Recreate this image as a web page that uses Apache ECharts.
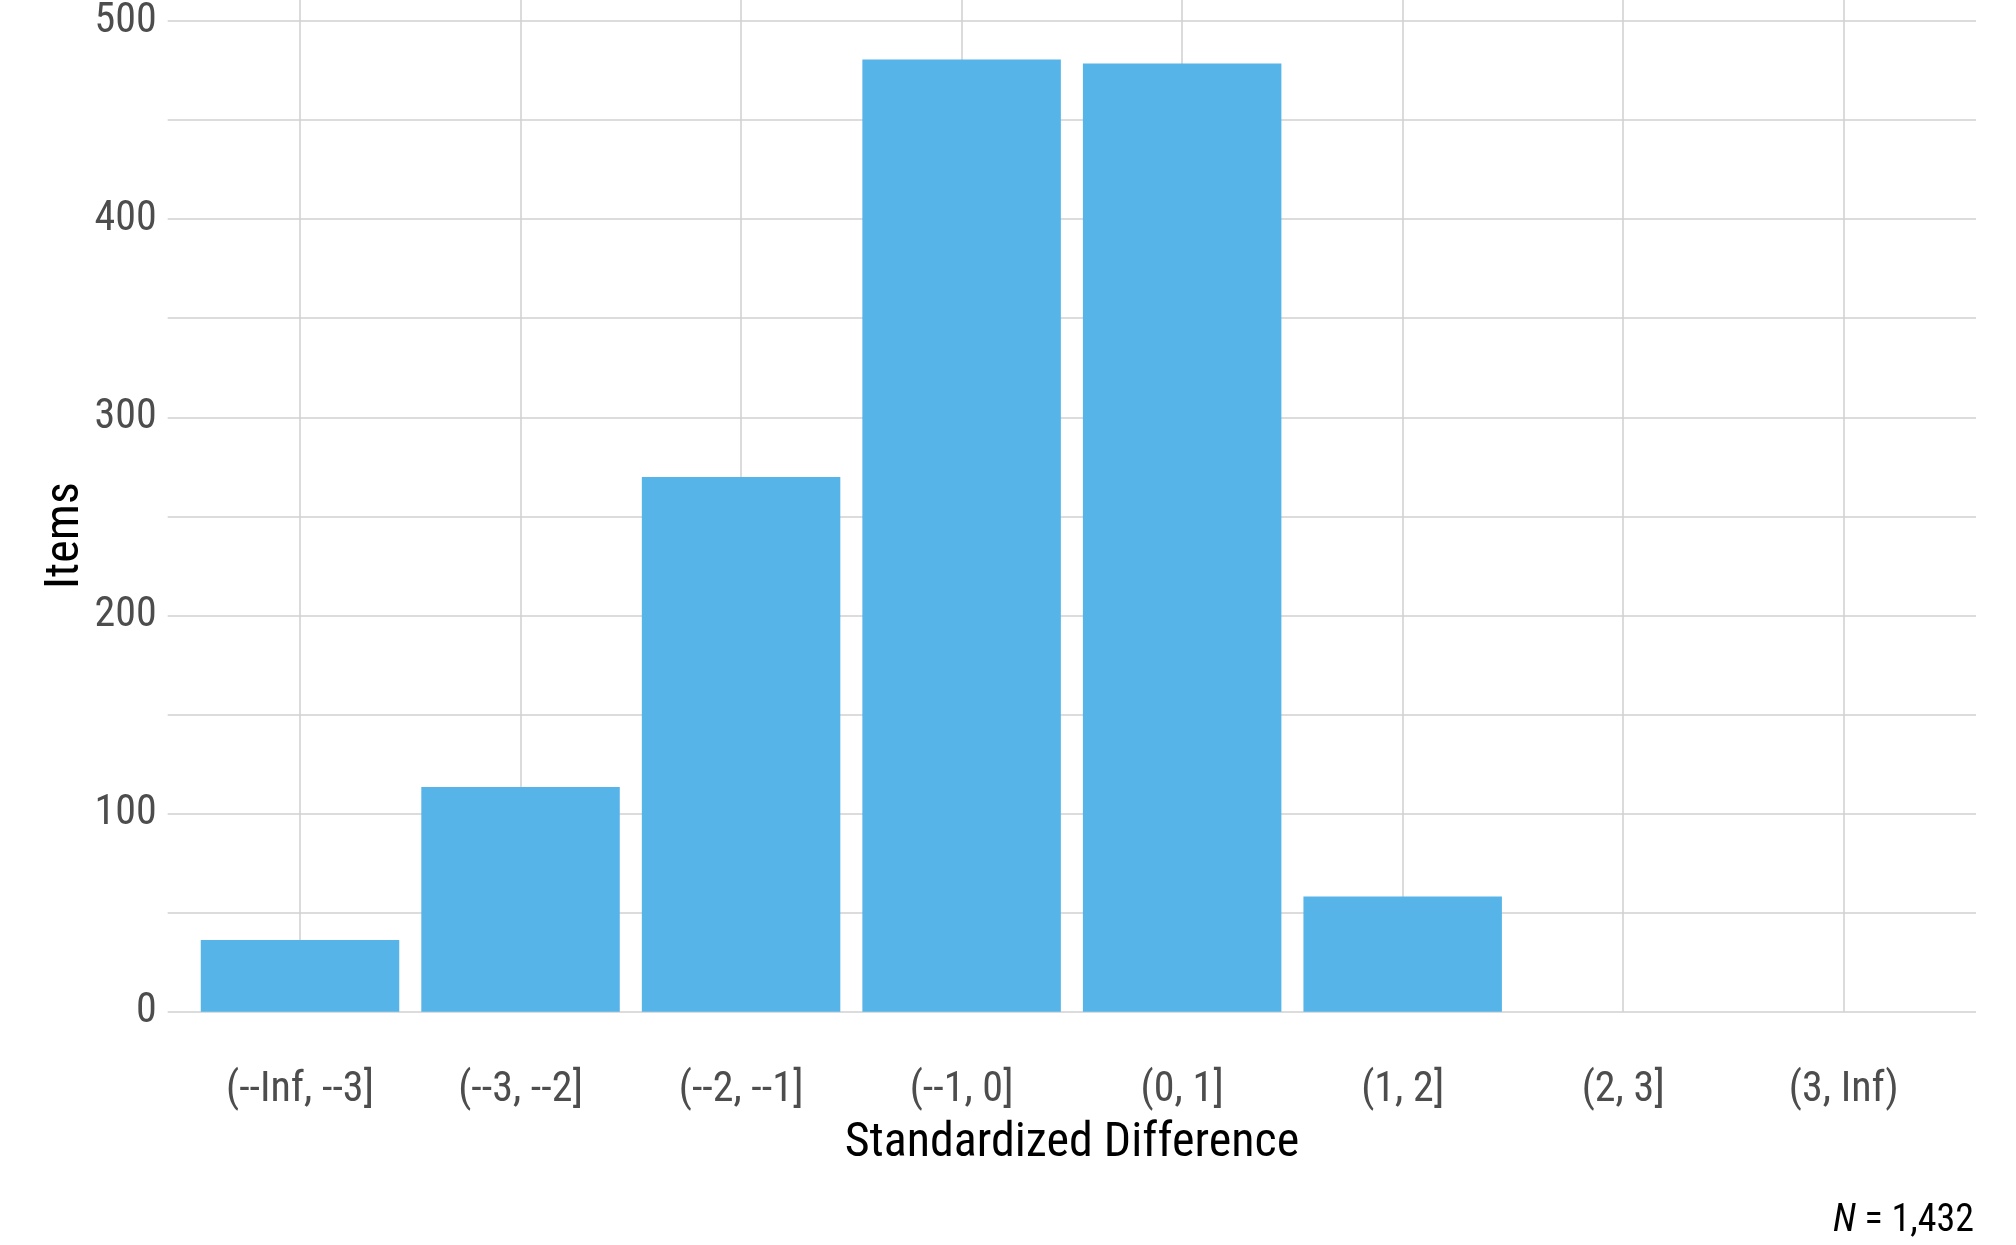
<!DOCTYPE html>
<html>
<head>
<meta charset="utf-8">
<script src="https://cdn.jsdelivr.net/npm/echarts@6/dist/echarts.min.js"></script>
<style>
  html, body { margin: 0; padding: 0; background: #fff; }
  #chart { width: 2016px; height: 1245px; }
</style>
</head>
<body>
<div id="chart"></div>
<script>
var categories = ['(--Inf, --3]', '(--3, --2]', '(--2, --1]', '(--1, 0]', '(0, 1]', '(1, 2]', '(2, 3]', '(3, Inf)'];
var items = [36, 113, 269, 479, 477, 58, 0, 0];
var yTicks = [0, 100, 200, 300, 400, 500];
var totalN = '1,432';

var font = "'Liberation Sans Narrow', 'Roboto Condensed', Roboto, sans-serif";
var gridCol = '#d0d0d0';

var dom = document.getElementById('chart');
var myChart = echarts.init(dom);

// panel with ggplot-style expansion: 0.6 category units on each side, 5% on y
var option = {
	backgroundColor: '#ffffff',
	animation: false,
	title: {
		text: '{i|N} = ' + totalN,
		right: 42,
		top: 1202,
		padding: 0,
		textStyle: {
			fontFamily: font,
			fontSize: 38,
			fontWeight: 'normal',
			color: '#000',
			rich: {
				i: { fontFamily: font, fontSize: 38, fontStyle: 'italic', color: '#000' }
			}
		}
	},
	grid: [
		// horizontal grid lines + y labels (full panel width)
		{ left: 167.7, right: 40, top: 17.7, bottom: 233.3 },
		// bars + vertical grid lines (full panel height)
		{ left: 189.75, right: 62, top: 11.8, bottom: 185.7 }
	],
	xAxis: [
		{ type: 'value', gridIndex: 0, show: false, min: 0, max: 1 },
		{
			type: 'category',
			gridIndex: 1,
			data: categories,
			name: 'Standardized Difference',
			nameLocation: 'middle',
			nameGap: 61,
			nameTextStyle: { fontFamily: font, fontSize: 48, color: '#000' },
			axisLine: { show: false },
			axisTick: {
				show: true,
				inside: true,
				alignWithLabel: true,
				length: 1047.5,
				lineStyle: { color: gridCol, width: 1.5 }
			},
			axisLabel: {
				fontFamily: font,
				fontSize: 42,
				color: '#4d4d4d',
				margin: 10,
				interval: 0
			},
			splitLine: { show: false }
		}
	],
	yAxis: [
		{
			type: 'value',
			gridIndex: 0,
			min: yTicks[0],
			max: yTicks[yTicks.length - 1],
			interval: 50,
			axisLine: { show: false },
			axisTick: { show: false },
			axisLabel: {
				fontFamily: font,
				fontSize: 42,
				color: '#4d4d4d',
				margin: 11,
				formatter: function (v) {
					return yTicks.indexOf(v) >= 0 ? String(v) : '';
				}
			},
			splitLine: { show: true, lineStyle: { color: gridCol, width: 1.5 } }
		},
		{
			type: 'value',
			gridIndex: 1,
			min: -23.95,
			max: 502.95,
			name: 'Items',
			nameLocation: 'middle',
			nameGap: 100,
			nameTextStyle: { fontFamily: font, fontSize: 48, color: '#000' },
			axisLine: { show: false },
			axisTick: { show: false },
			axisLabel: { show: false },
			splitLine: { show: false }
		}
	],
	series: [
		{
			name: 'Items',
			type: 'bar',
			xAxisIndex: 1,
			yAxisIndex: 1,
			data: items,
			barCategoryGap: '10%',
			itemStyle: { color: '#56B4E9' }
		}
	]
};

myChart.setOption(option, true);
</script>
</body>
</html>
